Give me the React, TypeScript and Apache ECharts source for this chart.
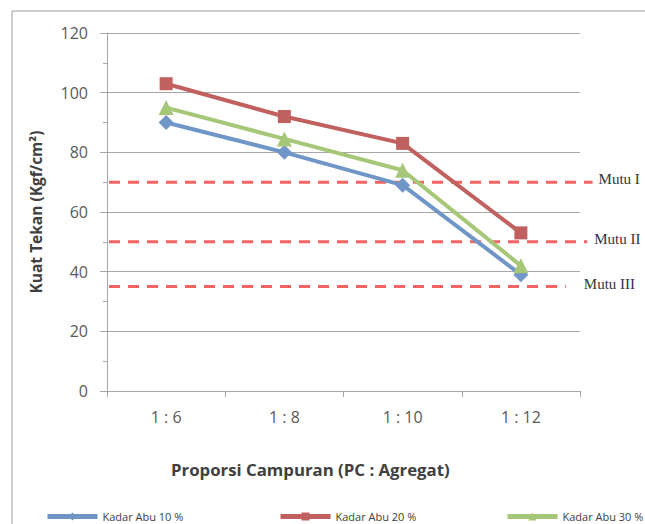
import React, { useEffect, useRef } from "react";
import * as echarts from "echarts";

const categories = ["1 : 6", "1 : 8", "1 : 10", "1 : 12"];
const kadarAbu10 = [90, 80, 69, 39];
const kadarAbu20 = [103, 92, 83, 53];
const kadarAbu30 = [95, 84.5, 74, 42];
const seriesNames = ["Kadar Abu 10 %", "Kadar Abu 20 %", "Kadar Abu 30 %"];
const mutuNames = ["Mutu I", "Mutu II", "Mutu III"];
const mutuValues = [70, 50, 35];
const mutuEnds = [0.995, 0.984, 0.94];

const SANS = "'Open Sans', 'Noto Sans', sans-serif";
const SERIF = "'Liberation Serif', 'DejaVu Serif', serif";

export default function App() {
  const ref = useRef<HTMLDivElement>(null);
  useEffect(() => {
    if (!ref.current) return;
    const chart = echarts.init(ref.current, undefined, { renderer: "svg" });
    const mainColors = ["#7096C8", "#C0615F", "#A5C777"];
    const symbols = ["diamond", "rect", "triangle"];
    const symbolSizes = [15, 13, 15];
    const values = [kadarAbu10, kadarAbu20, kadarAbu30];
    const legendLefts = [40, 273, 500];
    const labelGaps = [6, 7, 18];
    const mainSeries = values.map((v, i) => ({
      name: seriesNames[i],
      type: "line",
      xAxisIndex: 0,
      yAxisIndex: 0,
      data: v,
      symbol: symbols[i],
      symbolSize: symbolSizes[i],
      color: mainColors[i],
      lineStyle: { width: 4, color: mainColors[i] },
      itemStyle: { color: mainColors[i] },
      z: 3,
    }));
    const mutuSeries = mutuValues.map((v, i) => ({
      name: mutuNames[i],
      type: "line",
      xAxisIndex: 1,
      yAxisIndex: 1,
      data: [
        [0, v],
        [mutuEnds[i], v],
      ],
      symbol: "none",
      silent: true,
      lineStyle: { width: 3, color: "#F46464", type: [11, 8] },
      endLabel: {
        show: true,
        formatter: mutuNames[i],
        distance: labelGaps[i],
        offset: [0, -3],
        fontFamily: SERIF,
        fontSize: 15,
        color: "#333340",
      },
      z: 2,
    }));
    chart.setOption({
      animation: false,
      backgroundColor: "#ffffff",
      title: {
        text: "Proporsi Campuran (PC : Agregat)",
        left: 166,
        top: 456,
        textStyle: { fontFamily: SANS, fontSize: 16.8, fontWeight: "bold", color: "#404040" },
      },
      graphic: [
        {
          type: "rect",
          shape: { x: 12, y: 11, width: 800, height: 700 },
          style: { fill: "none", stroke: "#9C9C9C", lineWidth: 1 },
          silent: true,
          z: -1,
        },
      ],
      legend: seriesNames.map((n, i) => ({
        data: [n],
        left: legendLefts[i],
        top: 506,
        itemWidth: 50,
        itemHeight: 10,
        itemGap: 0,
        lineStyle: { width: 5 },
        textStyle: { fontFamily: SANS, fontSize: 11, color: "#404040" },
      })),
      grid: [
        { left: 107, right: 65, top: 33, bottom: 133 },
        { left: 109, right: 50, top: 33, bottom: 133 },
      ],
      xAxis: [
        {
          type: "category",
          gridIndex: 0,
          data: categories,
          boundaryGap: true,
          axisLine: { lineStyle: { color: "#A6A6A6", width: 1 } },
          axisTick: { show: true, length: 6, lineStyle: { color: "#A6A6A6" } },
          axisLabel: { margin: 18, fontFamily: SANS, fontSize: 16, color: "#595959" },
          splitLine: { show: false },
        },
        { type: "value", gridIndex: 1, min: 0, max: 1, show: false },
      ],
      yAxis: [
        {
          type: "value",
          gridIndex: 0,
          min: 0,
          max: 120,
          interval: 20,
          name: "Kuat Tekan (Kgf/cm²)",
          nameLocation: "middle",
          nameRotate: 90,
          nameGap: 63,
          nameTextStyle: { fontFamily: SANS, fontSize: 15.5, fontWeight: "bold", color: "#404040" },
          axisLine: { show: true, lineStyle: { color: "#A6A6A6", width: 1 } },
          axisTick: { show: true, length: 7, lineStyle: { color: "#A6A6A6" } },
          minorTick: { show: true, splitNumber: 2, length: 4, lineStyle: { color: "#A6A6A6" } },
          axisLabel: { margin: 19, fontFamily: SANS, fontSize: 16, color: "#595959" },
          splitLine: { show: true, lineStyle: { color: "#A6A6A6", width: 1 } },
        },
        { type: "value", gridIndex: 1, min: 0, max: 120, show: false },
      ],
      series: [...mutuSeries, ...mainSeries],
    });
    return () => chart.dispose();
  }, []);
  return (
    <div
      ref={ref}
      style={{ position: "fixed", left: 0, top: 0, width: 645, height: 524, background: "#fff" }}
    />
  );
}
